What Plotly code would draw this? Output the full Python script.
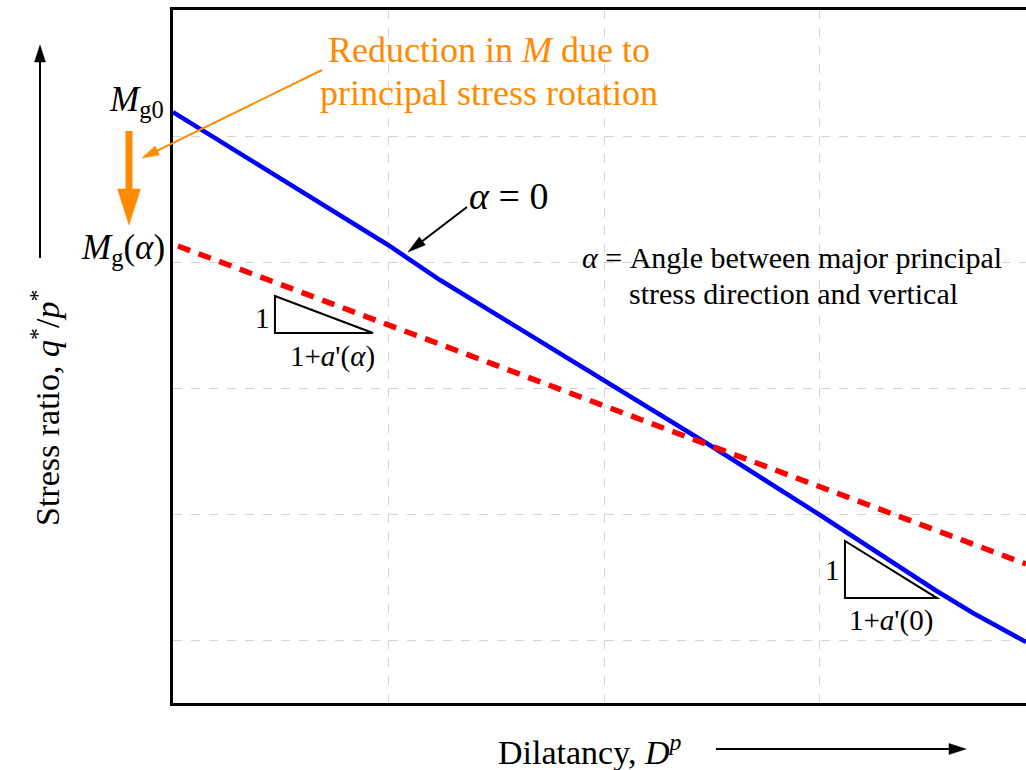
import math
import plotly.graph_objects as go

# ---------------- data ----------------
# Dilatancy axis in grid units, stress ratio in grid units
blue_x = [0.0, 0.998, 1.239, 1.995, 2.497, 3.002, 3.536, 3.712, 3.958]
blue_y = [5.19, 4.135, 3.857, 3.063, 2.54, 1.992, 1.397, 1.214, 0.984]
red_x = [0.023, 3.958]
red_y = [4.127, 1.603]
x_grid = [1, 2, 3]
y_grid = [1, 2, 3, 4, 5]
x_range = [0, 3.958]
y_range = [0.5, 6.0]

# ---------------- layout constants ----------------
W, H = 1026, 770
L, R, T, B = 173, 0, 10, 67
PW, PH = W - L - R, H - T - B
FONT = "Liberation Serif"
ORANGE = "#FF8A00"


def pp(px, py):
    """pixel -> paper coordinates"""
    return (px - L) / PW, (H - B - py) / PH


fig = go.Figure()
fig.add_trace(go.Scatter(x=blue_x, y=blue_y, mode="lines",
                         line=dict(color="#0000FF", width=4.5), hoverinfo="skip"))
fig.add_trace(go.Scatter(x=red_x, y=red_y, mode="lines",
                         line=dict(color="#FF0000", width=5.5, dash="13px,9px"), hoverinfo="skip"))

shapes = []


def arrow(x0, y0, x1, y1, color, width, head_len, head_w):
    dx, dy = x1 - x0, y1 - y0
    d = math.hypot(dx, dy)
    ux, uy = dx / d, dy / d
    bx, by = x1 - ux * head_len * 0.9, y1 - uy * head_len * 0.9
    hx, hy = x1 - ux * head_len, y1 - uy * head_len
    nx, ny = -uy, ux
    a = pp(x0, y0)
    b = pp(bx, by)
    shapes.append(dict(type="line", xref="paper", yref="paper",
                       x0=a[0], y0=a[1], x1=b[0], y1=b[1],
                       line=dict(color=color, width=width)))
    t = pp(x1, y1)
    p1 = pp(hx + nx * head_w / 2, hy + ny * head_w / 2)
    p2 = pp(hx - nx * head_w / 2, hy - ny * head_w / 2)
    path = f"M{t[0]},{t[1]} L{p1[0]},{p1[1]} L{p2[0]},{p2[1]} Z"
    shapes.append(dict(type="path", xref="paper", yref="paper", path=path,
                       fillcolor=color, line=dict(color=color, width=0.5)))


# axis arrows
arrow(40, 258, 40, 45, "black", 2, 17, 11)
arrow(716, 749, 966, 749, "black", 2, 17, 11)
# alpha = 0 pointer
arrow(467, 207, 408, 252, "black", 2, 18, 10)
# orange arrows
arrow(322, 70, 142, 158, ORANGE, 2, 17, 10)
arrow(129, 131, 129, 225, ORANGE, 7, 36, 23)

# slope triangles (data coordinates)
tri1 = [(0.473, 3.730), (0.473, 3.437), (0.928, 3.437)]
tri2 = [(3.118, 1.786), (3.118, 1.333), (3.545, 1.333)]
for tri in (tri1, tri2):
    path = "M" + " L".join(f"{x},{y}" for x, y in tri) + " Z"
    shapes.append(dict(type="path", xref="x", yref="y", path=path,
                       line=dict(color="black", width=2)))

annotations = []


def text(s, px, py, size, color="black", xanchor="center", yanchor="middle", angle=0):
    x, y = pp(px, py)
    annotations.append(dict(text=s, x=x, y=y, xref="paper", yref="paper",
                            xanchor=xanchor, yanchor=yanchor, showarrow=False,
                            textangle=angle,
                            font=dict(family=FONT, size=size, color=color)))


text("Reduction in <i>M</i> due to", 489, 50, 36, ORANGE)
text("principal stress rotation", 489, 93, 36, ORANGE)
text("<i>M</i><sub>g0</sub>", 166, 102, 35, xanchor="right")
text("<i>M</i><sub>g</sub>(<i>α</i>)", 167, 249, 35, xanchor="right")
text("<i>α</i> = 0", 467, 196, 38, xanchor="left")
text("<i>α</i> = Angle between major principal", 792, 257, 30)
text("stress direction and vertical", 793, 293, 30)
text("1", 262, 318, 29)
text("1+<i>a</i>'(<i>α</i>)", 332, 357, 29)
text("1", 832, 570, 29)
text("1+<i>a</i>'(0)", 891, 620, 29)
text("Dilatancy, <i>D</i><sup><i>p</i></sup>", 496, 750, 34, xanchor="left")
text("Stress ratio, <i>q</i><sup>*</sup>/<i>p</i><sup>*</sup>", 45, 408, 34, angle=-90)

axis_common = dict(showticklabels=False, ticks="", showgrid=True, gridcolor="#d4d4d4",
                   griddash="dash", gridwidth=1, showline=True, linecolor="black",
                   linewidth=2.5, zeroline=False, fixedrange=True)
fig.update_xaxes(range=x_range, tickvals=x_grid, mirror=True, **axis_common)
fig.update_yaxes(range=y_range, tickvals=y_grid, mirror=False, **axis_common)

fig.update_layout(width=W, height=H, margin=dict(l=L, r=R, t=T, b=B, pad=0),
                  plot_bgcolor="white", paper_bgcolor="white", showlegend=False,
                  shapes=shapes, annotations=annotations,
                  font=dict(family=FONT))

fig.write_html("out.html", config={"displayModeBar": False})
